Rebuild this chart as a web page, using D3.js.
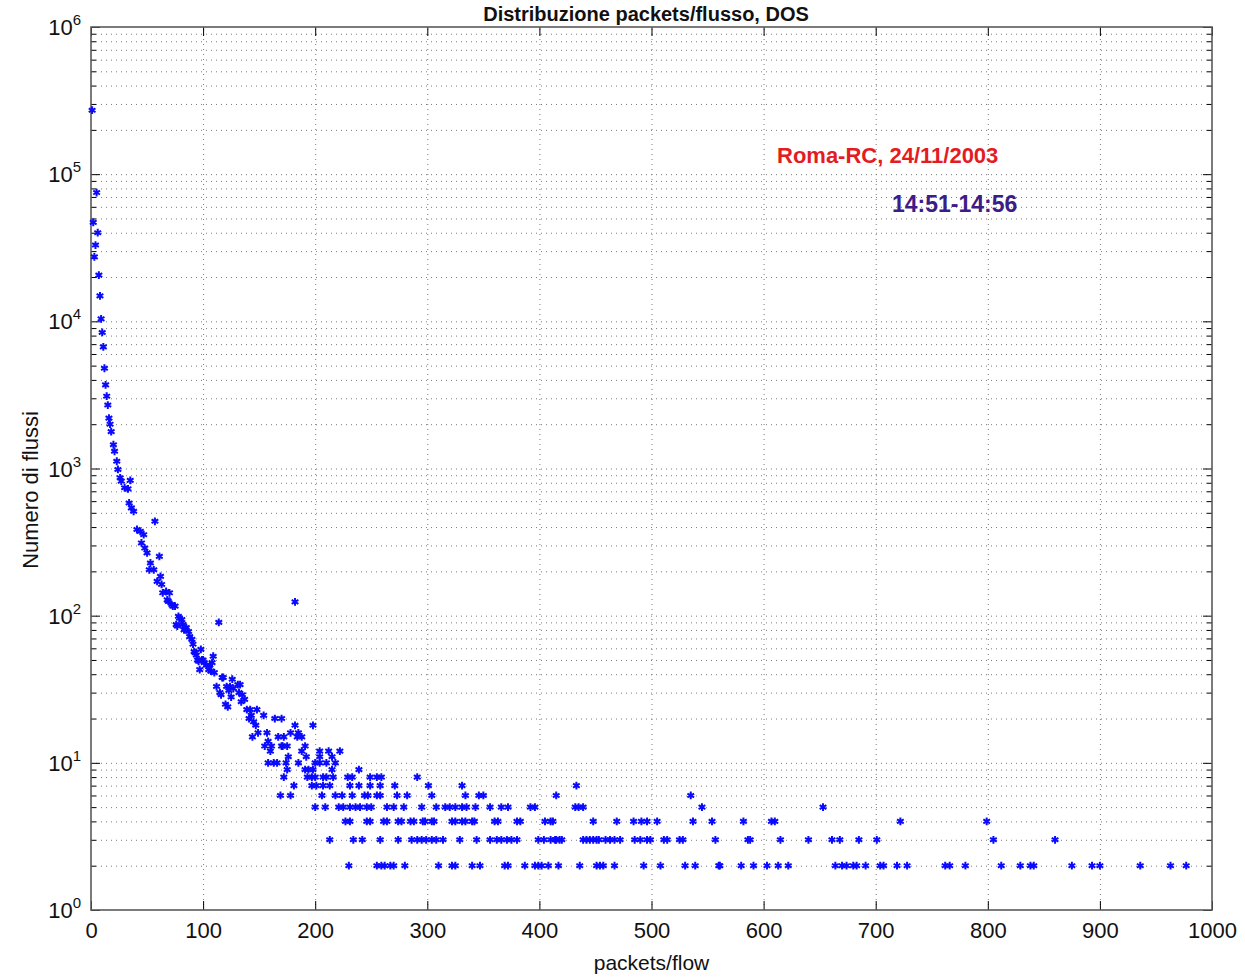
<!DOCTYPE html>
<html>
<head>
<meta charset="utf-8">
<script src="https://cdn.jsdelivr.net/npm/d3@7"></script>
<style>
  body { margin: 0; background: #fff; }
  text { font-family: "Liberation Sans", Arial, sans-serif; }
</style>
</head>
<body>
<div id="chart"></div>
<script>
/* Distribuzione packets/flusso - log scatter, Roma-RC 24/11/2003 */

// head of the distribution: packets/flow and number of flows
const curveX = [1, 2, 3, 4, 5, 6, 7, 8, 9, 10, 11, 12, 13, 14, 15, 16, 17, 18, 20, 21,
    23, 24, 26, 27, 30, 33, 35, 34, 36, 38, 41, 44, 47, 57, 45, 48, 50, 53, 52, 56,
    61, 59, 62, 63, 67, 70, 64, 68, 69, 72, 75, 73, 182, 78, 79, 81, 76, 82, 77, 84,
    85, 83, 87, 88, 90, 91, 114, 92, 93, 98, 94, 95, 100, 99, 96, 101, 103, 106, 108, 109,
    105, 97, 107, 110, 117, 118, 126, 112, 121, 124, 131, 133, 127, 123, 115, 132, 125, 116, 135, 137,
    134, 120, 122, 142, 139, 148, 154, 143];
const curveY = [272000, 47000, 27400, 33000, 75000, 40000, 20600, 14900, 10400, 8400, 6700, 4800, 3700, 3100, 2700, 2200, 2000, 1780, 1450, 1310,
    1120, 985, 865, 820, 740, 727, 830, 583, 540, 512, 385, 374, 355, 438, 312, 288, 267, 228, 205, 205,
    253, 171, 185, 163, 146, 143, 143, 128, 125, 119, 116, 116, 124, 99, 96, 94, 87, 87, 85, 82,
    83, 80, 78, 72, 69, 64, 90, 57, 56, 59, 54, 50, 50, 50, 49, 48, 46, 46, 48, 53,
    43, 43, 42, 41, 38, 38, 37, 33, 33, 33, 34, 34, 32, 31, 30, 30, 28, 29, 29, 27,
    26, 25, 24, 23, 23, 23, 21, 21];

// middle: 11..20 flows
const midX = [141, 164, 170, 145, 147, 182, 198, 149, 157, 178, 185, 144, 167, 172, 188, 184,
    158, 155, 161, 170, 171, 175, 191, 188, 204, 212, 222, 160, 176, 192, 204, 215];
const midY = [20, 20, 20, 19, 18, 18, 18, 16, 16, 16, 16, 15, 15, 15, 15, 15,
    14, 13, 13, 13, 13, 13, 13, 12, 12, 12, 12, 12, 11, 11, 11, 11];

// tail: packets/flow values observed for each small count
const tailCounts = [10, 9, 8, 7, 6, 5, 4, 3, 2];
const tailX = [
    [158, 163, 166, 174, 185, 200, 204, 210, 218],
    [175, 191, 194, 198, 215, 239],
    [172, 193, 197, 200, 207, 210, 216, 229, 233, 249, 255, 259, 291],
    [181, 197, 201, 207, 213, 231, 239, 249, 258, 271, 301, 331, 433],
    [169, 178, 206, 218, 224, 233, 244, 247, 255, 258, 273, 282, 304, 334, 346, 350, 415, 535],
    [200, 209, 221, 225, 231, 236, 240, 246, 250, 264, 270, 279, 295, 308, 316, 320, 325, 331, 335, 343,
     356, 366, 372, 392, 396, 432, 435, 439, 545, 653],
    [227, 231, 246, 249, 261, 264, 274, 277, 285, 288, 296, 298, 304, 306, 322, 325, 331, 334, 340, 342,
     360, 363, 380, 383, 405, 410, 412, 448, 469, 484, 491, 496, 505, 537, 554, 582, 607, 610, 722, 799],
    [213, 234, 242, 258, 274, 286, 291, 295, 299, 304, 308, 314, 329, 344, 356, 362, 366, 371, 375, 380,
     399, 404, 410, 414, 415, 418, 420, 439, 442, 445, 448, 451, 453, 459, 463, 467, 472, 485, 490, 496,
     499, 511, 514, 525, 528, 557, 586, 588, 615, 640, 661, 668, 685, 701, 805, 860],
    [230, 255, 259, 262, 267, 270, 280, 310, 322, 325, 340, 347, 369, 372, 387, 396, 399, 402, 408, 417,
     436, 451, 454, 457, 467, 493, 508, 530, 539, 560, 561, 580, 591, 603, 613, 622, 664, 670, 674, 680,
     683, 691, 704, 707, 719, 728, 762, 766, 780, 812, 829, 838, 841, 875, 893, 900, 936, 963, 977]
];

const xTicks = [0, 100, 200, 300, 400, 500, 600, 700, 800, 900, 1000];
const yDecades = [0, 1, 2, 3, 4, 5, 6];

let points = [];
curveX.forEach((v, i) => points.push({ p: v, n: curveY[i] }));
midX.forEach((v, i) => points.push({ p: v, n: midY[i] }));
tailCounts.forEach((c, i) => tailX[i].forEach(v => points.push({ p: v, n: c })));

const width = 1245,
      height = 980,
      margin = ({ top: 27, right: 33, bottom: 70, left: 91 });

let svg = d3.select("#chart")
    .append("svg")
    .attr("width", width)
    .attr("height", height);

let x = d3.scaleLinear()
    .domain([0, 1000])
    .range([margin.left, width - margin.right]);

let y = d3.scaleLog()
    .domain([1, 1e6])
    .range([height - margin.bottom, margin.top]);

const plotW = width - margin.left - margin.right,
      plotH = height - margin.top - margin.bottom;

// minor + major log positions
let yMinor = [];
for (let k = 0; k < 6; k++) {
    for (let m = 2; m <= 9; m++) yMinor.push(m * Math.pow(10, k));
}
let yMajor = yDecades.map(k => Math.pow(10, k));

// grid lines, dotted like matlab
svg.append("g")
    .attr("class", "grid")
    .attr("transform", `translate(0,${height - margin.bottom})`)
    .call(d3.axisBottom(x).tickValues(xTicks.slice(1, -1)).tickSize(-plotH).tickFormat(""))
    .call(g => g.select(".domain").remove());

svg.append("g")
    .attr("class", "grid")
    .attr("transform", `translate(${margin.left},0)`)
    .call(d3.axisLeft(y).tickValues(yMinor.concat(yMajor.slice(1, -1))).tickSize(-plotW).tickFormat(""))
    .call(g => g.select(".domain").remove());

svg.selectAll(".grid line")
    .attr("stroke", "#7a7a7a")
    .attr("stroke-width", 1)
    .attr("stroke-dasharray", "1,4");

// inward ticks on all four sides
svg.append("g")
    .attr("transform", `translate(0,${height - margin.bottom})`)
    .call(d3.axisBottom(x).tickValues(xTicks).tickSizeInner(-9).tickSizeOuter(0).tickPadding(12)
        .tickFormat(d3.format("d")))
    .call(g => g.select(".domain").remove())
    .call(g => g.selectAll("text").attr("font-size", 22).attr("fill", "#111")
        .style("font-family", "'Liberation Sans', Arial, sans-serif"));

svg.append("g")
    .attr("transform", `translate(0,${margin.top})`)
    .call(d3.axisTop(x).tickValues(xTicks).tickSizeInner(-9).tickSizeOuter(0).tickFormat(""))
    .call(g => g.select(".domain").remove());

svg.append("g")
    .attr("transform", `translate(${margin.left},0)`)
    .call(d3.axisLeft(y).tickValues(yMajor).tickSizeInner(-9).tickSizeOuter(0).tickFormat(""))
    .call(g => g.select(".domain").remove());
svg.append("g")
    .attr("transform", `translate(${margin.left},0)`)
    .call(d3.axisLeft(y).tickValues(yMinor).tickSizeInner(-5).tickSizeOuter(0).tickFormat(""))
    .call(g => g.select(".domain").remove());
svg.append("g")
    .attr("transform", `translate(${width - margin.right},0)`)
    .call(d3.axisRight(y).tickValues(yMajor).tickSizeInner(-9).tickSizeOuter(0).tickFormat(""))
    .call(g => g.select(".domain").remove());
svg.append("g")
    .attr("transform", `translate(${width - margin.right},0)`)
    .call(d3.axisRight(y).tickValues(yMinor).tickSizeInner(-5).tickSizeOuter(0).tickFormat(""))
    .call(g => g.select(".domain").remove());

// box round the axes
svg.append("rect")
    .attr("x", margin.left)
    .attr("y", margin.top)
    .attr("width", plotW)
    .attr("height", plotH)
    .attr("fill", "none")
    .attr("stroke", "#5a5a5a")
    .attr("stroke-width", 1.6);

// y tick labels 10^k
let yLab = svg.append("g")
    .selectAll("text")
    .data(yDecades)
    .join("text")
    .attr("x", 81)
    .attr("y", k => y(Math.pow(10, k)) + 8)
    .attr("text-anchor", "end")
    .attr("fill", "#111")
    .attr("font-size", 22);
yLab.append("tspan").text("10");
yLab.append("tspan").attr("dy", -10).attr("font-size", 15).text(k => k);

// points as matlab '*' markers
svg.append("g")
    .selectAll("path")
    .data(points)
    .join("path")
    .attr("transform", d => `translate(${x(d.p)},${y(d.n)})`)
    .attr("d", d3.symbol(d3.symbolAsterisk, 42))
    .attr("fill", "none")
    .attr("stroke", "#0a0aff")
    .attr("stroke-width", 2);

// title, kept small enough to sit above the axes
svg.append("text")
    .attr("x", 646)
    .attr("y", 21)
    .attr("text-anchor", "middle")
    .attr("font-size", 20)
    .attr("font-weight", "bold")
    .attr("fill", "#111")
    .text("Distribuzione packets/flusso, DOS");

// axis labels
svg.append("text")
    .attr("x", x(500))
    .attr("y", 970)
    .attr("text-anchor", "middle")
    .attr("font-size", 21)
    .attr("fill", "#111")
    .text("packets/flow");

svg.append("text")
    .attr("transform", `translate(38,490) rotate(-90)`)
    .attr("text-anchor", "middle")
    .attr("font-size", 22)
    .attr("fill", "#111")
    .text("Numero di flussi");

// annotations
svg.append("text")
    .attr("x", 777)
    .attr("y", 163)
    .attr("font-size", 22)
    .attr("font-weight", "bold")
    .attr("fill", "#e41b23")
    .text("Roma-RC, 24/11/2003");

svg.append("text")
    .attr("x", 892)
    .attr("y", 212)
    .attr("font-size", 23)
    .attr("font-weight", "bold")
    .attr("fill", "#3d1c86")
    .text("14:51-14:56");
</script>
</body>
</html>
